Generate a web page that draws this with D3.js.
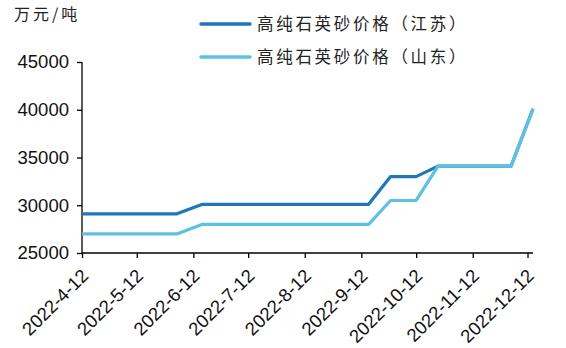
<!DOCTYPE html>
<html>
<head>
<meta charset="utf-8">
<script src="https://cdn.jsdelivr.net/npm/d3@7"></script>
<style>
  body { margin: 0; background: #fff; }
  .axis path, .axis line { stroke: #000; stroke-width: 1.3; }
  .axis text { font-family: "Liberation Sans", Arial, sans-serif; font-size: 18.5px; fill: #111; }
  .cjk { font-family: "Noto Sans CJK SC", sans-serif; fill: #222; }
</style>
</head>
<body>
<div id="chart"></div>
<script>
// data
var dates    = ["2022-04-12","2022-06-03","2022-06-17","2022-09-16","2022-09-28","2022-10-12","2022-10-24","2022-12-03","2022-12-15"];
var jiangsu  = [29100, 29100, 30100, 30100, 33000, 33000, 34100, 34100, 40100];
var shandong = [27000, 27000, 28000, 28000, 30500, 30500, 34100, 34100, 40100];
var seriesNames = ["高纯石英砂价格（江苏）", "高纯石英砂价格（山东）"];
var colors = ["#1c78b6", "#5ec1e4"];
var tickDates = ["2022-4-12","2022-5-12","2022-6-12","2022-7-12","2022-8-12","2022-9-12","2022-10-12","2022-11-12","2022-12-12"];
var yTicks = [25000, 30000, 35000, 40000, 45000];

var W = 566, H = 348;
var parse = d3.timeParse("%Y-%m-%d");

var svg = d3.select("#chart").append("svg")
  .attr("width", W).attr("height", H);

var x = d3.scaleTime()
  .domain([parse("2022-04-12"), parse("2022-12-15")])
  .range([82, 533]);
var y = d3.scaleLinear().domain([25000, 45000]).range([253, 62]);

// y axis
var yAxis = d3.axisLeft(y).tickValues(yTicks).tickSize(5).tickPadding(8).tickFormat(d3.format("d"));
svg.append("g").attr("class", "axis y")
  .attr("transform", "translate(82,0)")
  .call(yAxis)
  .call(function(g){ g.select(".domain").attr("d", "M0," + y(45000) + "V" + y(25000)); });

// x axis
var xAxis = d3.axisBottom(x).tickValues(tickDates.map(parse)).tickSize(5)
  .tickFormat(function(d, i){ return tickDates[i]; });
var gx = svg.append("g").attr("class", "axis x")
  .attr("transform", "translate(0,253)")
  .call(xAxis);
gx.select(".domain").attr("d", "M82,0H533");
gx.selectAll(".tick text")
  .attr("text-anchor", "end")
  .attr("x", 0).attr("y", 0).attr("dy", 0)
  .attr("transform", "translate(7,24) rotate(-45)");

// lines
var line = d3.line()
  .x(function(d, i){ return x(parse(dates[i])); })
  .y(function(d){ return y(d); });

[jiangsu, shandong].forEach(function(vals, k){
  svg.append("path")
    .attr("d", line(vals))
    .attr("fill", "none")
    .attr("stroke", colors[k])
    .attr("stroke-width", 3.2)
    .attr("stroke-linejoin", "round");
});

// unit label
svg.append("text").attr("class", "cjk")
  .attr("x", 14).attr("y", 20)
  .style("font-size", "16px").style("letter-spacing", "3px")
  .text("万元/吨");

// legend
seriesNames.forEach(function(name, k){
  var ly = 24 + k * 33;
  svg.append("line")
    .attr("x1", 201).attr("x2", 250).attr("y1", ly).attr("y2", ly)
    .attr("stroke", colors[k]).attr("stroke-width", 3.5).attr("stroke-linecap", "round");
  svg.append("text").attr("class", "cjk")
    .attr("x", 257).attr("y", ly + 6)
    .style("font-size", "16.5px").style("letter-spacing", "2.7px")
    .text(name);
});
</script>
</body>
</html>
